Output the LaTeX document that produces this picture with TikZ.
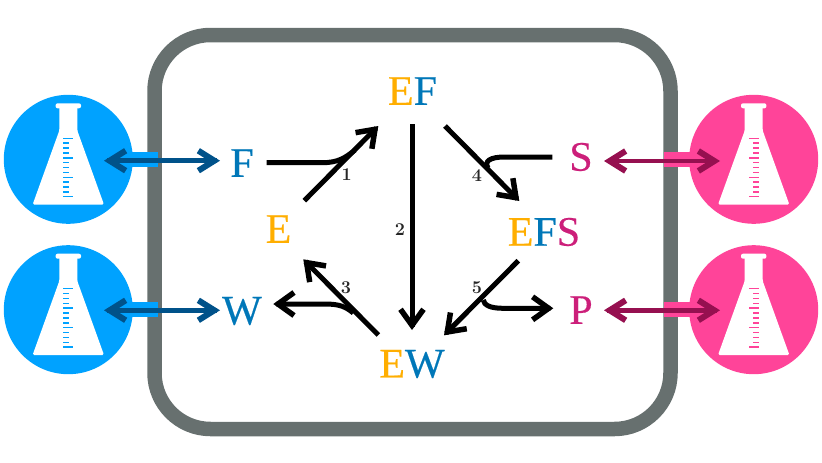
\documentclass[tikz,border=0pt]{standalone}
\usepackage{fontspec}
\setmainfont{Liberation Serif}[RawFeature={embolden=0.4}]
\newfontfamily\numfont{Latin Modern Roman}
\usetikzlibrary{arrows.meta}
\definecolor{cE}{HTML}{FFAE00}
\definecolor{cF}{HTML}{0077B8}
\definecolor{cS}{HTML}{CC1F7A}
\definecolor{frameC}{HTML}{67706F}
\definecolor{lblue}{HTML}{00A2FF}
\definecolor{dblue}{HTML}{00528A}
\definecolor{lpink}{HTML}{FF4499}
\definecolor{dpink}{HTML}{961050}
\makeatletter
\pgfdeclarearrow{
  name=SharpBarb,
  parameters={\the\pgfarrowlength,\the\pgfarrowwidth,\the\pgfarrowlinewidth},
  setup code={
    \pgfarrowssettipend{0pt}
    \pgfarrowssetlineend{-3pt}
    \pgfarrowssetvisualbackend{-\pgfarrowlength}
    \pgfarrowssetbackend{-\pgfarrowlength}
    \pgfarrowssavethe\pgfarrowlength
    \pgfarrowssavethe\pgfarrowwidth
    \pgfarrowssavethe\pgfarrowlinewidth
  },
  drawing code={
    \pgfmathsetlengthmacro{\barboff}{0.5*\pgfarrowlinewidth*veclen(\pgfarrowlength,0.5*\pgfarrowwidth)/(0.5*\pgfarrowwidth)}
    \pgfsetdash{}{0pt}\pgfsetbuttcap\pgfsetmiterjoin
    \pgfsetlinewidth{\pgfarrowlinewidth}
    \pgfpathmoveto{\pgfpoint{-\pgfarrowlength-\barboff}{0.5\pgfarrowwidth}}
    \pgfpathlineto{\pgfpoint{-\barboff}{0pt}}
    \pgfpathlineto{\pgfpoint{-\pgfarrowlength-\barboff}{-0.5\pgfarrowwidth}}
    \pgfusepathqstroke
  },
  defaults={length=15pt,width=20pt}
}
\makeatother
\tikzset{
  x=1pt,y=-1pt,
  species/.style={inner sep=0pt,font=\fontsize{42}{42}\selectfont},
  steplabel/.style={inner sep=0pt,text=black!85,font=\fontsize{18}{18}\numfont\bfseries},
  reaction/.style={line width=5pt,-{SharpBarb[length=16pt,width=23pt,line width=5.5pt]}},
  feeder/.style={line width=5pt},
  exchange/.style={line width=4.7pt,{SharpBarb[length=16pt,width=20pt,line width=6pt]}-{SharpBarb[length=16pt,width=20pt,line width=6pt]}},
  tank/.style={circle,inner sep=0pt,minimum size=129pt,fill=#1},
  stub/.style={fill=#1,draw=none},
  pics/flask/.style={code={
    \fill[white,rounded corners=2pt] (-12.7,-56) rectangle (12.7,-51);
    \fill[white,rounded corners=1.5pt] (-9,-53) -- (-9,-28.7) -- (-35.7,45.3) -- (35.7,45.3) -- (9,-28.7) -- (9,-53) -- cycle;
    \foreach \i in {0,...,12}{
      \pgfmathtruncatemacro{\m}{mod(\i,4)}
      \pgfmathsetmacro{\ty}{-21+\i*4.87}
      \ifnum\m=0 \draw[#1,line width=1.5pt] (-5,\ty) -- (5,\ty);
      \else \draw[#1,line width=1.5pt] (-5,\ty) -- (0.7,\ty); \fi
    }
  }}
}
\begin{document}
\begin{tikzpicture}
\useasboundingbox (0,0) rectangle (822,463);
% cell
\draw[frameC,line width=14.5pt,rounded corners=56pt] (154.5,35) rectangle (670.5,429);
% stubs
\fill[stub=lblue] (132,151.7) rectangle (158,167.3);
\fill[stub=lblue] (132,301.7) rectangle (158,317.3);
\fill[stub=lpink] (663.7,151.7) rectangle (690,167.3);
\fill[stub=lpink] (663.7,301.7) rectangle (690,317.3);
% tanks
\node[tank=lblue] (t1) at (68.3,159.3) {};
\node[tank=lblue] (t2) at (68.3,309.7) {};
\node[tank=lpink] (t3) at (753.7,159.3) {};
\node[tank=lpink] (t4) at (753.7,309.7) {};
\pic at (t1.center) {flask=lblue};
\pic at (t2.center) {flask=lblue};
\pic[xscale=-1] at (t3.center) {flask=lpink};
\pic[xscale=-1] at (t4.center) {flask=lpink};
% species
\node[species] (EF) at (412.5,91) {\textcolor{cE}{E}\textcolor{cF}{F}};
\node[species,text=cE] (E) at (278.5,229) {E};
\node[species] (EFS) at (544,232) {\textcolor{cE}{E}\textcolor{cF}{F}\textcolor{cS}{S}};
\node[species] (EW) at (412,364) {\textcolor{cE}{E}\textcolor{cF}{W}};
\node[species,text=cF] (F) at (242,163) {F};
\node[species,text=cF] (W) at (242,311) {W};
\node[species,text=cS] (S) at (581,157) {S};
\node[species,text=cS] (P) at (581,310) {P};
% connector ends
\coordinate (a1s) at (304.3,200.7); \coordinate (a1e) at (378.3,126);
\coordinate (a2s) at (412,124.3); \coordinate (a2e) at (412,330);
\coordinate (a3s) at (378.3,335); \coordinate (a3e) at (303.3,259.3);
\coordinate (a4s) at (445,126); \coordinate (a4e) at (519.3,201);
\coordinate (a5s) at (518.3,260.7); \coordinate (a5e) at (444,335.3);
\coordinate (fs) at (266.7,162.7); \coordinate (fj) at (355,150);
\coordinate (sj) at (488,168); \coordinate (ss) at (552.3,157);
\coordinate (pj) at (483.3,300); \coordinate (pe) at (553.3,308.3);
\coordinate (wj) at (353.3,313); \coordinate (we) at (273.3,304);
\coordinate (l1a) at (104,160.7); \coordinate (l1b) at (220,160.7);
\coordinate (l2a) at (104,310.3); \coordinate (l2b) at (220,310.3);
\coordinate (r1a) at (604,161); \coordinate (r1b) at (720,161);
\coordinate (r2a) at (604,310.3); \coordinate (r2b) at (720,310.3);
% reactions
\draw[reaction] (a1s) -- (a1e);
\draw[reaction] (a2s) -- (a2e);
\draw[reaction] (a3s) -- (a3e);
\draw[reaction] (a4s) -- (a4e);
\draw[reaction] (a5s) -- (a5e);
\draw[feeder] (fs) -- (322,162.7) .. controls (338,162.7) and (345,158) .. (fj);
\draw[feeder] (sj) .. controls (484,161) and (490,157) .. (505,157) -- (ss);
\draw[reaction] (pj) .. controls (484,305) and (490,308.3) .. (503,308.3) -- (pe);
\draw[reaction] (wj) .. controls (346,307) and (340,304) .. (325,304) -- (we);
% exchange
\draw[exchange,dblue] (l1a) -- (l1b);
\draw[exchange,dblue] (l2a) -- (l2b);
\draw[exchange,dpink] (r1a) -- (r1b);
\draw[exchange,dpink] (r2a) -- (r2b);
% labels
\node[steplabel] (n1) at (346.7,175) {1};
\node[steplabel] (n2) at (400,229.3) {2};
\node[steplabel] (n3) at (346,287.7) {3};
\node[steplabel] (n4) at (477,175.7) {4};
\node[steplabel] (n5) at (477,287.7) {5};
\end{tikzpicture}
\end{document}
